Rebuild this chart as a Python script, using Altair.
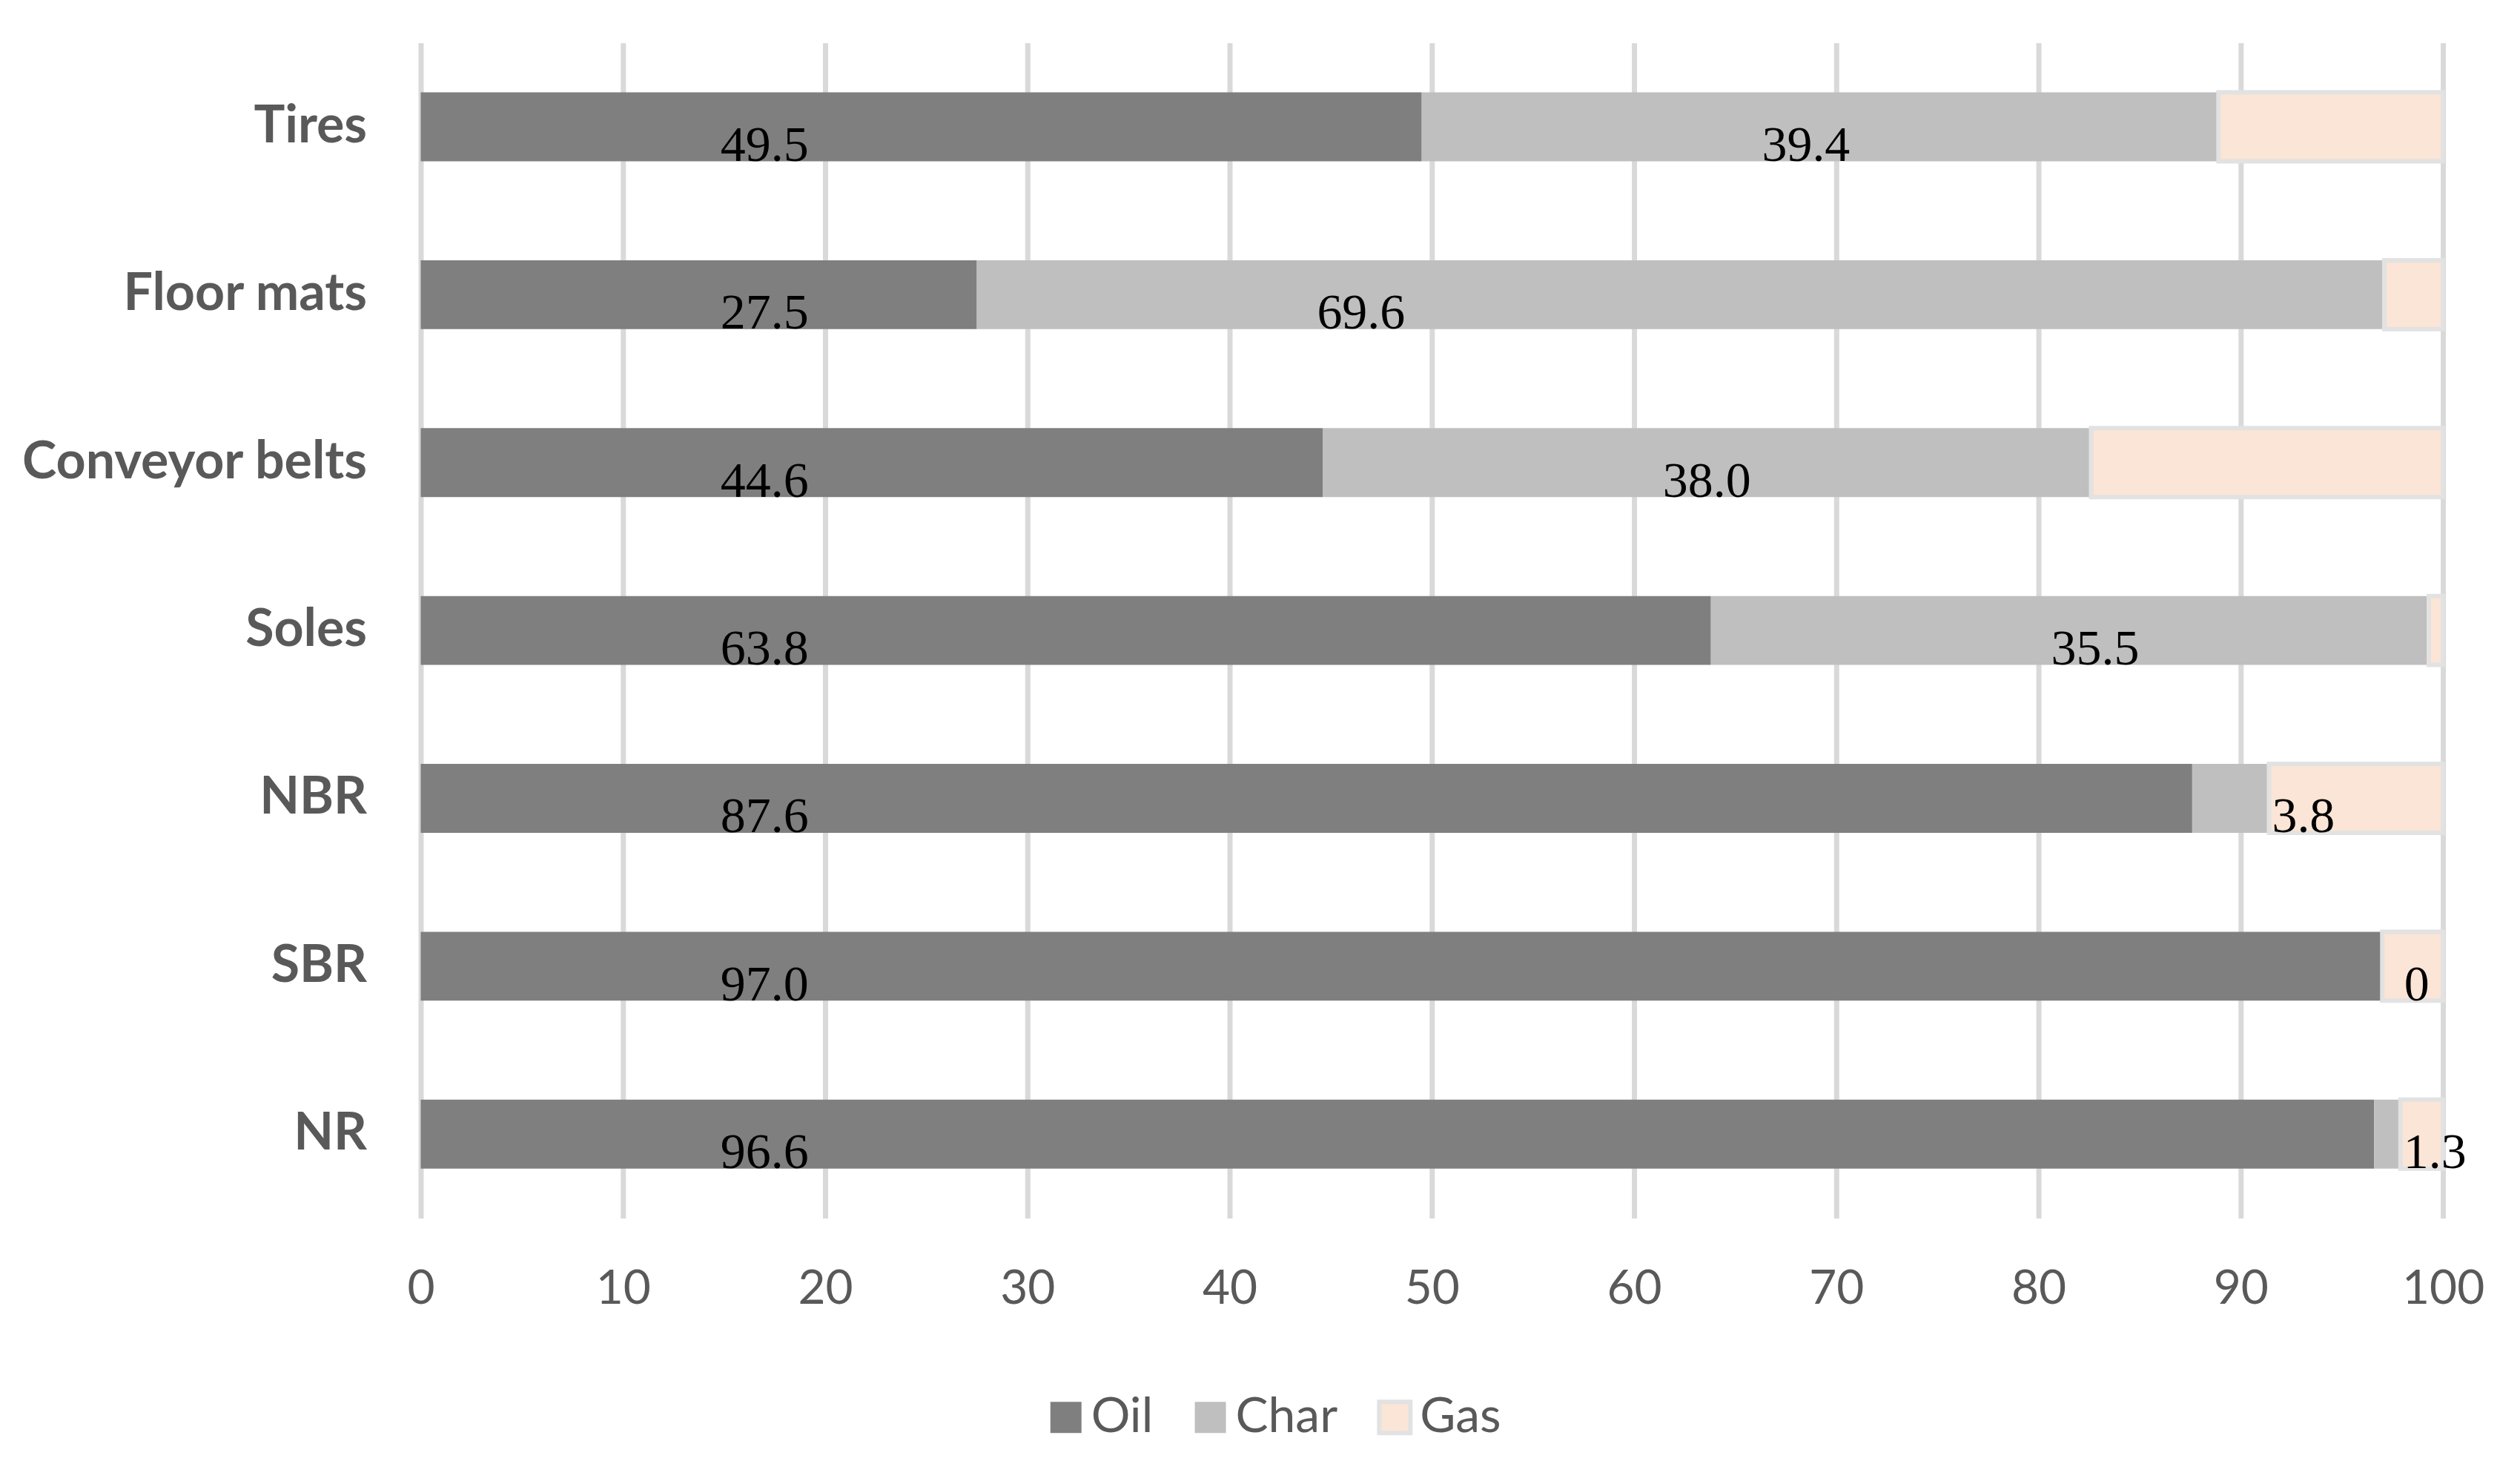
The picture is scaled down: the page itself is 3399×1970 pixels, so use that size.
import altair as alt
import pandas as pd

# ---- data ----
categories = ["Tires", "Floor mats", "Conveyor belts", "Soles", "NBR", "SBR", "NR"]
oil = [49.5, 27.5, 44.6, 63.8, 87.6, 97.0, 96.6]
char = [39.4, 69.6, 38.0, 35.5, 3.8, 0.0, 1.3]
gas = [11.1, 2.9, 17.4, 0.7, 8.6, 3.0, 2.1]
components = ["Oil", "Char", "Gas"]
x_ticks = [0, 10, 20, 30, 40, 50, 60, 70, 80, 90, 100]

# ---- styles ----
fill_colors = ["#7f7f7f", "#bfbfbf", "#fbe5d6"]
stroke_colors = ["rgba(0,0,0,0)", "rgba(0,0,0,0)", "#e2e2e2"]
TEXT_GREY = "#595959"
SANS = "Lato"
SERIF = "Liberation Serif"
OIL_LABEL_X = 17.0      # label anchor used in the reference (data units)
CHAR_LABEL_OFF = 19.0   # char label offset from the start of the char segment
CHAR_END_PAD = 1.7      # small segments: label sits just past the segment end

df = pd.DataFrame({"Category": categories, "Oil": oil, "Char": char, "Gas": gas})
base = alt.Chart(df)

y_enc = alt.Y(
    "Category:N",
    sort=categories,
    scale=alt.Scale(paddingInner=0.59, paddingOuter=0.295),
    axis=alt.Axis(
        title=None, domain=False, ticks=False, labelFont=SANS, labelFontWeight="bold",
        labelFontSize=70, labelColor=TEXT_GREY, labelPadding=73, labelLimit=0,
        minExtent=555, maxExtent=555,
    ),
)

legend = alt.Legend(
    title=None, orient="none", direction="horizontal", legendX=838, legendY=1822,
    symbolType="square", symbolSize=1764, symbolStrokeWidth=6, symbolOpacity=1,
    labelFont=SANS, labelFontSize=66, labelColor=TEXT_GREY, labelOffset=1,
    columnPadding=44, padding=0,
)

bars = (
    base.transform_fold(components, as_=["Component", "Value"])
    .transform_calculate(order="indexof(['Oil','Char','Gas'], datum.Component)")
    .mark_bar(strokeWidth=6)
    .encode(
        y=y_enc,
        x=alt.X(
            "Value:Q", stack="zero",
            scale=alt.Scale(domain=[0, 100], nice=False),
            axis=alt.Axis(
                title=None, values=x_ticks, domain=False, ticks=False, grid=True,
                gridColor="#d9d9d9", gridWidth=7, labelFont=SANS, labelFontSize=64,
                labelColor=TEXT_GREY, labelPadding=64, labelFlush=False,
            ),
        ),
        color=alt.Color("Component:N", sort=components,
                        scale=alt.Scale(domain=components, range=fill_colors), legend=legend),
        stroke=alt.Stroke("Component:N", sort=components,
                          scale=alt.Scale(domain=components, range=stroke_colors), legend=legend),
        order=alt.Order("order:Q"),
    )
)

labels = (
    base.transform_fold(["Oil", "Char"], as_=["Component", "Value"])
    .transform_calculate(
        lx=f"datum.Component == 'Oil' ? {OIL_LABEL_X} : "
           f"min(datum.Oil + {CHAR_LABEL_OFF}, datum.Oil + datum.Char + {CHAR_END_PAD})",
        txt="datum.Value == 0 ? '0' : format(datum.Value, '.1f')",
    )
    .mark_text(font=SERIF, fontSize=68, color="black", align="center",
               baseline="alphabetic", dy=46)
    .encode(
        y=alt.Y("Category:N", sort=categories),
        x=alt.X("lx:Q"),
        text="txt:N",
    )
)

chart = (
    alt.layer(bars, labels)
    .properties(width=2730, height=1586, padding={"top": 49, "left": 5, "right": 40, "bottom": 0})
    .configure_view(stroke=None)
)

chart.save("out.html", embed_options={"renderer": "svg", "actions": False})
